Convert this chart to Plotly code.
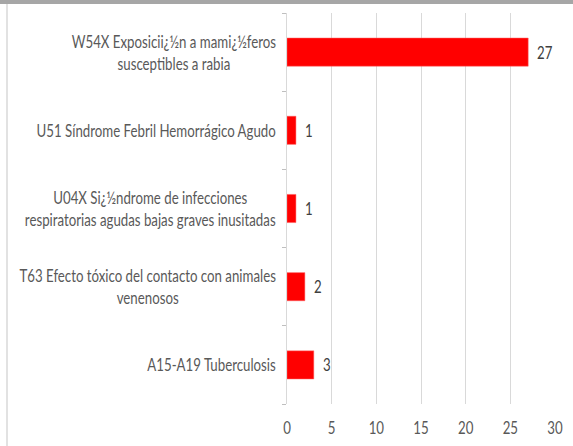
import plotly.graph_objects as go

categories = [
    "W54X Exposicii¿½n a mami¿½feros<br>susceptibles a rabia",
    "U51 Síndrome Febril Hemorrágico Agudo",
    "U04X Si¿½ndrome de infecciones<br>respiratorias agudas bajas graves inusitadas",
    "T63 Efecto tóxico del contacto con animales<br>venenosos",
    "A15-A19 Tuberculosis",
]
values = [27, 1, 1, 2, 3]
x_ticks = [0, 5, 10, 15, 20, 25, 30]

FONT = "Lato, Open Sans, sans-serif"
TXT = "#595959"

fig = go.Figure(go.Bar(
    x=values, y=categories, orientation="h",
    marker=dict(color="#ff0000", line=dict(color="#ff6666", width=0.5)),
    width=0.36, hoverinfo="skip",
))

ann = []
for c in categories:
    ann.append(dict(x=0, xref="paper", y=c, yref="y", text=c, showarrow=False,
                    xanchor="right", align="center", xshift=-9,
                    font=dict(family=FONT, size=17, color=TXT)))
for c, v in zip(categories, values):
    ann.append(dict(x=v, xref="x", y=c, yref="y", text=str(v), showarrow=False,
                    xanchor="left", xshift=7,
                    font=dict(family=FONT, size=17, color="#404040")))

W, H = 573, 446
l, r, t, b = 287, 18, 13, 42
pw, ph = W - l - r, H - t - b
shapes = [
    dict(type="line", xref="paper", yref="paper", x0=(0 - l) / pw, x1=(W - l) / pw,
         y0=1 + (t - 2) / ph, y1=1 + (t - 2) / ph, line=dict(color="#a6a6a6", width=4),
         layer="above"),
    dict(type="line", xref="paper", yref="paper", x0=(7 - l) / pw, x1=(7 - l) / pw,
         y0=-b / ph, y1=1 + (t - 4) / ph, line=dict(color="#d9d9d9", width=1.5)),
]

fig.update_layout(
    width=W, height=H, margin=dict(l=l, r=r, t=t, b=b, autoexpand=False),
    paper_bgcolor="white", plot_bgcolor="white", showlegend=False,
    annotations=ann, shapes=shapes,
    xaxis=dict(range=[0, 30], tickvals=x_ticks, showgrid=True, gridcolor="#d9d9d9",
               gridwidth=1, zeroline=False, showline=False, ticks="",
               tickfont=dict(family=FONT, size=17, color=TXT), ticklabelstandoff=12),
    yaxis=dict(categoryorder="array", categoryarray=categories[::-1],
               showticklabels=False, showline=True, linecolor="#d9d9d9", linewidth=1,
               ticks="outside", tickson="boundaries", ticklen=4, tickcolor="#bfbfbf",
               showgrid=False),
)

N = len(categories)
post = """
document.body.style.margin='0';
var gd = document.getElementById('{plot_id}');
var S = 0.78, N = %d;
function squish(t, mode){
  var b = t.getBBox();
  var cx = mode === 'r' ? b.x + b.width : (mode === 'l' ? b.x : b.x + b.width / 2);
  var orig = t.getAttribute('data-orig-tf');
  if (orig === null) { orig = t.getAttribute('transform') || ''; t.setAttribute('data-orig-tf', orig); }
  t.setAttribute('transform', orig + ' translate(' + cx + ',0) scale(' + S + ',1) translate(' + (-cx) + ',0)');
}
gd.querySelectorAll('g.annotation').forEach(function(g){
  var i = parseInt(g.getAttribute('data-index'));
  var t = g.querySelector('text.annotation-text');
  if (t) squish(t, i < N ? 'r' : 'l');
});
gd.querySelectorAll('g.xtick text').forEach(function(t){ squish(t, 'c'); });
""" % N

fig.write_html("out.html", post_script=post, config={"displayModeBar": False})
